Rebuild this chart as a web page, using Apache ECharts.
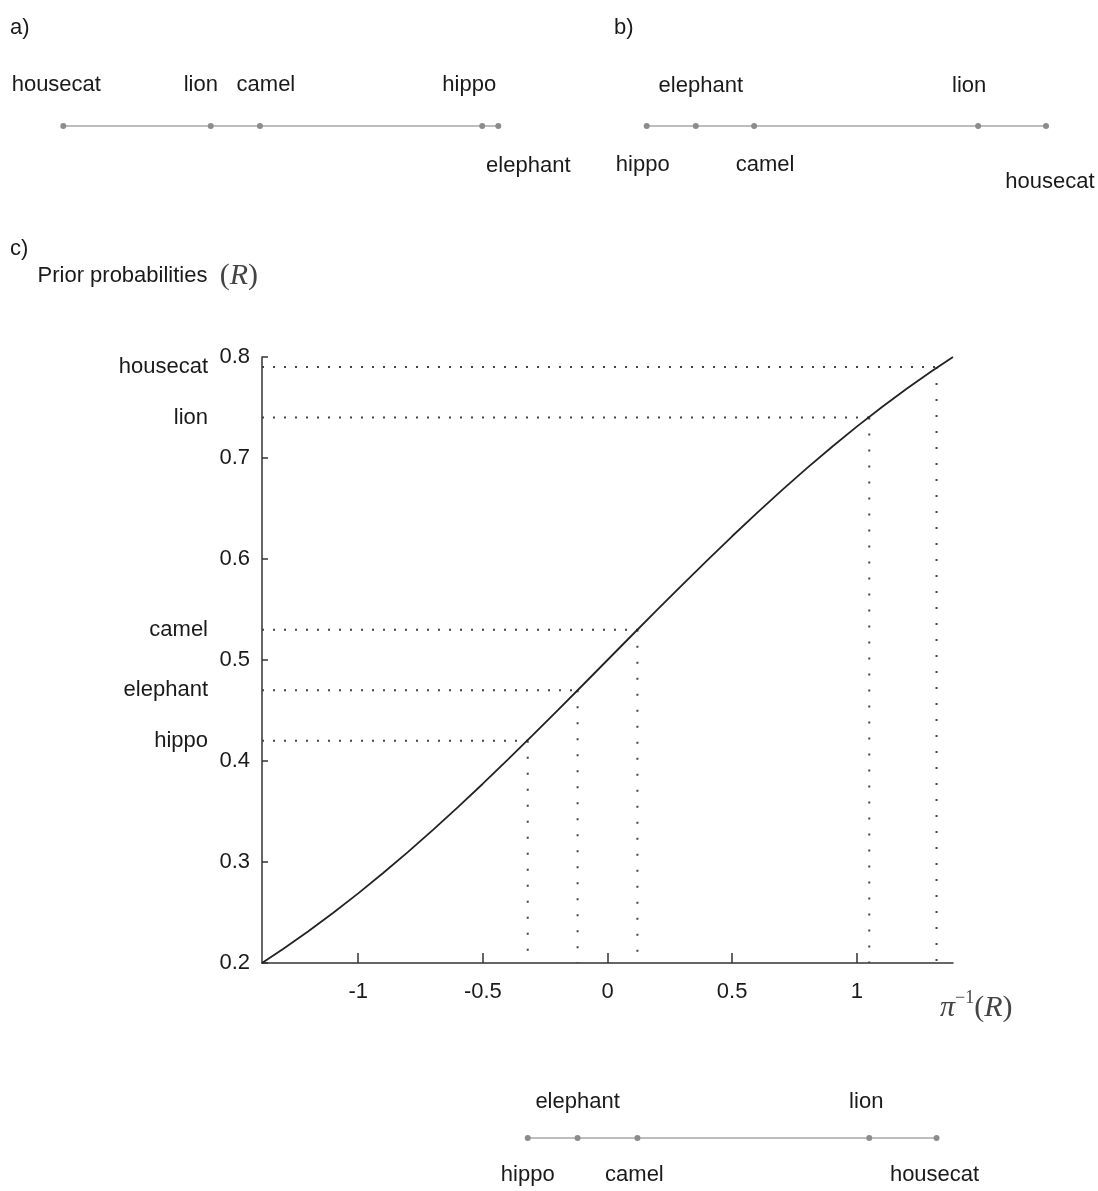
<!DOCTYPE html>
<html>
<head>
<meta charset="utf-8">
<script src="https://cdn.jsdelivr.net/npm/echarts@6/dist/echarts.min.js"></script>
<style>html,body{margin:0;padding:0;background:#fff}#c{width:1098px;height:1191px}</style>
</head>
<body>
<div id="c"></div>
<script>
// ---------------- data ----------------
const animals = ['housecat', 'lion', 'camel', 'elephant', 'hippo'];
// a) relative positions along the first number line
const posA = [0, 0.339, 0.452, 1.0, 0.963];
// b) relative positions along the second number line
const posB = [1.0, 0.830, 0.269, 0.123, 0];
// c) prior probabilities R and their inverse pi^-1(R)
const priors = [0.79, 0.74, 0.53, 0.47, 0.42];
const invPriors = [1.32, 1.05, 0.12, -0.12, -0.32];
// curve points
const curveX = [-1.386, -1.3, -1.2, -1.1, -1.0, -0.9, -0.8, -0.7, -0.6, -0.5, -0.4, -0.3, -0.2, -0.1, 0,
                0.1, 0.2, 0.3, 0.4, 0.5, 0.6, 0.7, 0.8, 0.9, 1.0, 1.1, 1.2, 1.3, 1.386];
const curveY = [0.2000, 0.2142, 0.2315, 0.2497, 0.2689, 0.2891, 0.3100, 0.3318, 0.3543, 0.3775, 0.4013, 0.4256, 0.4502, 0.4750, 0.5000,
                0.5250, 0.5498, 0.5744, 0.5987, 0.6225, 0.6457, 0.6682, 0.6900, 0.7109, 0.7311, 0.7503, 0.7685, 0.7858, 0.8000];
// axes
const xTicks = [-1, -0.5, 0, 0.5, 1];
const xRange = [-1.386, 1.386];
const yRange = [0.2, 0.8];
const yStep = 0.1;

// ---------------- layout / style ----------------
const FONT = "'Liberation Sans','Arimo','Helvetica','Arial',sans-serif";
const SERIF = "'Liberation Serif','DejaVu Serif',serif";
const TXT = '#1a1a1a';
const FS = 22;
const offA = {housecat: [-7, -41], lion: [-10, -41], camel: [6, -41], elephant: [30, 40], hippo: [-13, -41]};
const offB = {housecat: [4, 56], lion: [-9, -40], camel: [11, 39], elephant: [5, -40], hippo: [-4, 39]};
const offC = {housecat: [-2, 37], lion: [-3, -36], camel: [-3, 37], elephant: [0, -36], hippo: [0, 37]};

function numberLine(vals, offs, xi, yi) {
  const items = animals.map((n, i) => ({
    name: n,
    value: [vals[i], 0],
    label: {show: true, formatter: n, position: 'inside', offset: offs[n],
            color: TXT, fontSize: FS, fontFamily: FONT}
  }));
  items.sort((a, b) => a.value[0] - b.value[0]);
  return {
    type: 'line', xAxisIndex: xi, yAxisIndex: yi, data: items,
    symbol: 'circle', symbolSize: 6, showSymbol: true,
    itemStyle: {color: '#8c8c8c'},
    lineStyle: {color: '#bdbdbd', width: 2},
    silent: true, z: 3
  };
}

const hiddenAxis = (grid, min, max) => ({
  type: 'value', gridIndex: grid, min: min, max: max, show: false,
  splitLine: {show: false}
});

const series = [];
series.push(numberLine(posA, offA, 0, 0));
series.push(numberLine(posB, offB, 1, 1));
series.push(numberLine(invPriors, offC, 3, 4));

// main curve
series.push({
  type: 'line', xAxisIndex: 2, yAxisIndex: 2,
  data: curveX.map((x, i) => [x, curveY[i]]),
  showSymbol: false, smooth: false,
  lineStyle: {color: '#222', width: 1.8}, silent: true, z: 4
});
// dotted guides
animals.forEach((n, i) => {
  series.push({
    type: 'line', xAxisIndex: 2, yAxisIndex: 2,
    data: [[xRange[0], priors[i]], [invPriors[i], priors[i]]],
    showSymbol: false, silent: true, z: 2,
    lineStyle: {color: '#444', width: 2, type: [2, 9]}
  });
  series.push({
    type: 'line', xAxisIndex: 2, yAxisIndex: 2,
    data: [[invPriors[i], priors[i]], [invPriors[i], yRange[0]]],
    showSymbol: false, silent: true, z: 2,
    lineStyle: {color: '#444', width: 2, type: [2, 14]}
  });
});

const option = {
  animation: false,
  backgroundColor: '#fff',
  grid: [
    {left: 63.3, width: 435, top: 106, height: 40},
    {left: 646.7, width: 399.3, top: 106, height: 40},
    {left: 262, width: 691, top: 357, height: 606},
    {left: 262, width: 691, top: 1118, height: 40}
  ],
  xAxis: [
    hiddenAxis(0, 0, 1),
    hiddenAxis(1, 0, 1),
    {
      type: 'value', gridIndex: 2, min: xRange[0], max: xRange[1],
      axisLine: {show: true, onZero: false, lineStyle: {color: '#333', width: 1.5}},
      axisTick: {show: true, inside: true, length: 10, customValues: xTicks, lineStyle: {color: '#333', width: 1.5}},
      axisLabel: {customValues: xTicks, margin: 18, color: TXT, fontSize: FS, fontFamily: FONT},
      splitLine: {show: false},
      name: '{i|π}{s|−1}{a|(}{i|R}{a|)}',
      nameLocation: 'end', nameGap: -13,
      nameTextStyle: {
        align: 'left', verticalAlign: 'top', padding: [26, 0, 0, 0], color: '#444',
        rich: {
          i: {fontFamily: SERIF, fontStyle: 'italic', fontSize: 30, color: '#444', lineHeight: 38},
          a: {fontFamily: SERIF, fontSize: 30, color: '#444', lineHeight: 38},
          s: {fontFamily: SERIF, fontSize: 18, color: '#444', verticalAlign: 'top', lineHeight: 38}
        }
      }
    },
    hiddenAxis(3, xRange[0], xRange[1])
  ],
  yAxis: [
    hiddenAxis(0, -1, 1),
    hiddenAxis(1, -1, 1),
    {
      type: 'value', gridIndex: 2, min: yRange[0], max: yRange[1], interval: yStep,
      axisLine: {show: true, onZero: false, lineStyle: {color: '#333', width: 1.5}},
      axisTick: {show: true, inside: true, length: 6, lineStyle: {color: '#333', width: 1.5}},
      axisLabel: {margin: 12, color: TXT, fontSize: FS, fontFamily: FONT, formatter: v => v.toFixed(1)},
      splitLine: {show: false},
      name: 'Prior probabilities  {p|(}{i|R}{p|)}',
      nameLocation: 'end', nameGap: 81,
      nameTextStyle: {
        align: 'right', verticalAlign: 'middle', color: TXT, fontSize: FS, fontFamily: FONT, padding: [0, 4, 0, 0],
        rich: {
          p: {fontFamily: SERIF, fontSize: 30, color: '#444'},
          i: {fontFamily: SERIF, fontStyle: 'italic', fontSize: 30, color: '#444'}
        }
      }
    },
    {
      type: 'value', gridIndex: 2, min: yRange[0], max: yRange[1], position: 'left',
      axisLine: {show: false}, axisTick: {show: false}, splitLine: {show: false},
      axisLabel: {
        customValues: priors, margin: 54, color: TXT, fontSize: FS, fontFamily: FONT,
        formatter: v => {
          const k = priors.findIndex(p => Math.abs(p - v) < 1e-6);
          return k >= 0 ? animals[k] : '';
        }
      }
    },
    hiddenAxis(3, -1, 1)
  ],
  graphic: [
    {type: 'text', x: 10, y: 28, style: {text: 'a)', fontSize: FS, fontFamily: FONT, fill: TXT, verticalAlign: 'middle'}},
    {type: 'text', x: 614, y: 28, style: {text: 'b)', fontSize: FS, fontFamily: FONT, fill: TXT, verticalAlign: 'middle'}},
    {type: 'text', x: 10, y: 249, style: {text: 'c)', fontSize: FS, fontFamily: FONT, fill: TXT, verticalAlign: 'middle'}}
  ],
  series: series
};

const chart = echarts.init(document.getElementById('c'), null, {renderer: 'canvas'});
chart.setOption(option);
</script>
</body>
</html>
